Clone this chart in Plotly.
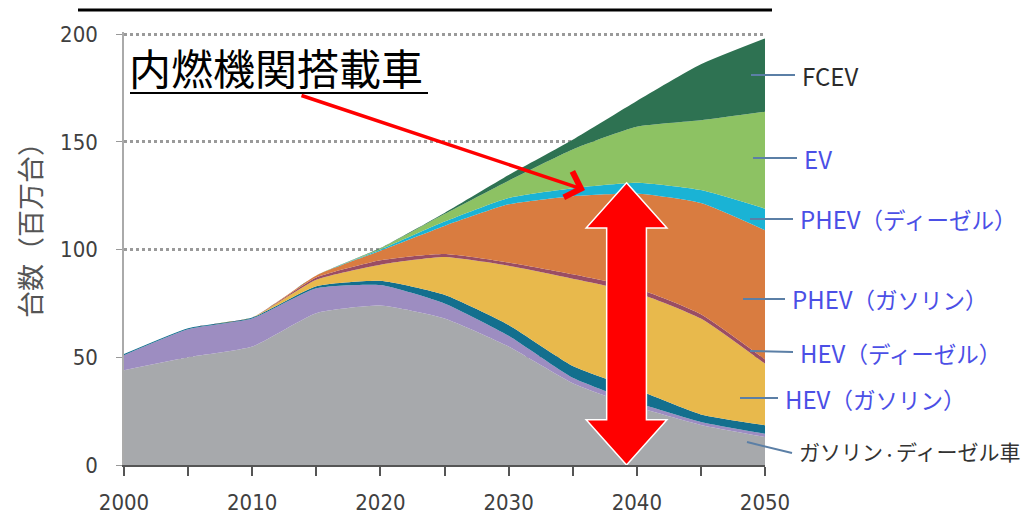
import plotly.graph_objects as go

# 乗用車保有台数の推移（百万台）、下から積み上げ
years = [2000, 2005, 2010, 2015, 2020, 2025, 2030, 2035, 2040, 2045, 2050]

ice_gasoline = [44, 50, 55, 70.5, 74, 68, 55, 38, 27, 18.6, 13]
ice_diesel = [7, 13, 13, 11.5, 9.5, 7, 5, 2.5, 2, 1.4, 1.5]
cng_lpg = [0.5, 0.5, 0.5, 1, 2, 4, 5, 5.5, 6, 3.5, 4]
hev_gasoline = [0, 0, 0, 3, 7.5, 17.5, 27.5, 40.5, 45, 44.5, 28.5]
hev_diesel = [0, 0, 0, 1, 2, 1.5, 1.5, 2, 2, 2, 2]
phev_gasoline = [0, 0, 0, 1, 4.5, 13, 27, 36.3, 44, 51.6, 60]
phev_diesel = [0, 0, 0, 0, 0.5, 2, 3, 3.7, 5, 6, 10]
ev = [0, 0, 0, 0, 0.5, 3.5, 8, 18, 26, 32.4, 45]
fcev = [0, 0, 0, 0, 0.2, 0.5, 2.6, 4.5, 12, 26, 34]

layers = [
    ("ガソリン車", ice_gasoline, "#a7a9ac"),
    ("ディーゼル車", ice_diesel, "#9d8dc1"),
    ("CNG・LPG車", cng_lpg, "#136f8e"),
    ("HEV（ガソリン）", hev_gasoline, "#e8b94c"),
    ("HEV（ディーゼル）", hev_diesel, "#9a4d63"),
    ("PHEV（ガソリン）", phev_gasoline, "#d97c40"),
    ("PHEV（ディーゼル）", phev_diesel, "#1ab3d5"),
    ("EV", ev, "#8dc263"),
    ("FCEV", fcev, "#2e7252"),
]

BLUE, DARK = "#4b4fe6", "#2b2b2b"
JP = '<span style="font-size:22.5px">{}</span>'
JP_SMALL = '<span style="font-size:21px">{}</span>'

# labels on the right: (text, colour, label y px, leader line x0,y0,x1,y1 px)
side_labels = [
    ("FCEV", DARK, 75, (751, 75, 795, 75)),
    ("EV", BLUE, 158, (753, 158, 797, 158)),
    ("PHEV" + JP.format("（ディーゼル）"), BLUE, 218, (750, 219, 793, 219)),
    ("PHEV" + JP.format("（ガソリン）"), BLUE, 298, (743, 299, 785, 299)),
    ("HEV" + JP.format("（ディーゼル）"), BLUE, 352, (750, 351, 793, 352)),
    ("HEV" + JP.format("（ガソリン）"), BLUE, 398, (740, 398, 778, 398)),
    (JP_SMALL.format('ガソリン<span style="font-size:13px">・</span>ディーゼル車'),
     "#333333", 451, (747, 442, 792, 453)),
]

W, H = 1027, 516
L, R, T, B = 124, 765, 32, 465
Y_MAX = 201


def px(x):
    return (x - L) / (R - L)


def py(y):
    return (B - y) / (B - T)


fig = go.Figure()
for name, vals, color in layers:
    fig.add_trace(go.Scatter(
        x=years, y=vals, name=name, stackgroup="one", mode="lines",
        line=dict(width=0, color=color, shape="spline", smoothing=0.5),
        fillcolor=color, hoverinfo="x+y+name",
    ))

shapes = []
annotations = []

for text, color, ly, (x0, y0, x1, y1) in side_labels:
    annotations.append(dict(
        text=text, xref="paper", yref="paper", x=px(x1 + 5), y=py(ly),
        xanchor="left", yanchor="middle", showarrow=False,
        font=dict(family="Noto Sans CJK JP", size=24, color=color),
    ))
    shapes.append(dict(
        type="line", xref="paper", yref="paper",
        x0=px(x0), y0=py(y0), x1=px(x1), y1=py(y1),
        line=dict(color="#5b7fa6", width=2),
    ))

# double-headed arrow: height of combustion-engine vehicles in 2040
i2040 = years.index(2040)
ice_top = sum(v[i2040] for _, v, _ in layers[:7])
cx, shaft_hw, head_hw, head_h = 2039.2, 1.55, 3.15, 21.0
arrow_path = (
    f"M {cx},{ice_top} L {cx + head_hw},{ice_top - head_h} "
    f"L {cx + shaft_hw},{ice_top - head_h} L {cx + shaft_hw},{head_h} "
    f"L {cx + head_hw},{head_h} L {cx},0 L {cx - head_hw},{head_h} "
    f"L {cx - shaft_hw},{head_h} L {cx - shaft_hw},{ice_top - head_h} "
    f"L {cx - head_hw},{ice_top - head_h} Z"
)
shapes.append(dict(
    type="path", xref="x", yref="y", path=arrow_path,
    fillcolor="#ff0000", line=dict(color="white", width=1.5), layer="above",
))

# callout text with underline and pointer arrow
annotations.append(dict(
    text="内燃機関搭載車", xref="paper", yref="paper", x=px(127), y=py(67),
    xanchor="left", yanchor="middle", showarrow=False,
    font=dict(family="Noto Sans CJK JP", size=42, color="black"),
))
shapes.append(dict(
    type="line", xref="paper", yref="paper",
    x0=px(130), y0=py(93), x1=px(428), y1=py(93),
    line=dict(color="black", width=2),
))
annotations.append(dict(
    text="", xref="paper", yref="paper", x=px(585), y=py(190),
    ax=-285, ay=-95, showarrow=True, arrowhead=4, arrowsize=1.5,
    arrowwidth=3.5, arrowcolor="#ff0000", standoff=0,
))

# y-axis title
annotations.append(dict(
    text="台数（百万台）", xref="paper", yref="paper", x=px(30), y=py(224),
    xanchor="center", yanchor="middle", textangle=-90, showarrow=False,
    font=dict(family="Noto Sans CJK JP", size=27, color="#555555"),
))

# heading underline
shapes.append(dict(
    type="line", xref="paper", yref="paper",
    x0=px(78), y0=py(10), x1=px(772), y1=py(10),
    line=dict(color="black", width=3),
))

tick_font = dict(family="Liberation Sans Narrow, DejaVu Sans Condensed, sans-serif",
                 size=22, color="#404040")

fig.update_layout(
    width=W, height=H,
    margin=dict(l=L, r=W - R, t=T, b=H - B, pad=0, autoexpand=False),
    paper_bgcolor="white", plot_bgcolor="white",
    showlegend=False,
    shapes=shapes, annotations=annotations,
    xaxis=dict(
        range=[2000, 2050], tickvals=[2000, 2010, 2020, 2030, 2040, 2050],
        ticks="outside", ticklen=9, tickcolor="#555555", tickwidth=1.5,
        minor=dict(dtick=5, ticks="outside", ticklen=9, tickcolor="#555555", tickwidth=1.5),
        showline=True, linecolor="#555555", linewidth=1.5, automargin=False,
        showgrid=False, zeroline=False, tickfont=tick_font, ticklabelstandoff=8,
    ),
    yaxis=dict(
        range=[0, Y_MAX], tickvals=[0, 50, 100, 150, 200],
        ticks="outside", ticklen=6, tickcolor="#999999", automargin=False,
        showline=True, linecolor="#aaaaaa", linewidth=1.5,
        showgrid=True, gridcolor="#9a9a9a", gridwidth=2.5, griddash="dot",
        zeroline=False, tickfont=tick_font, ticklabelstandoff=14,
    ),
)

fig.write_html("out.html")
